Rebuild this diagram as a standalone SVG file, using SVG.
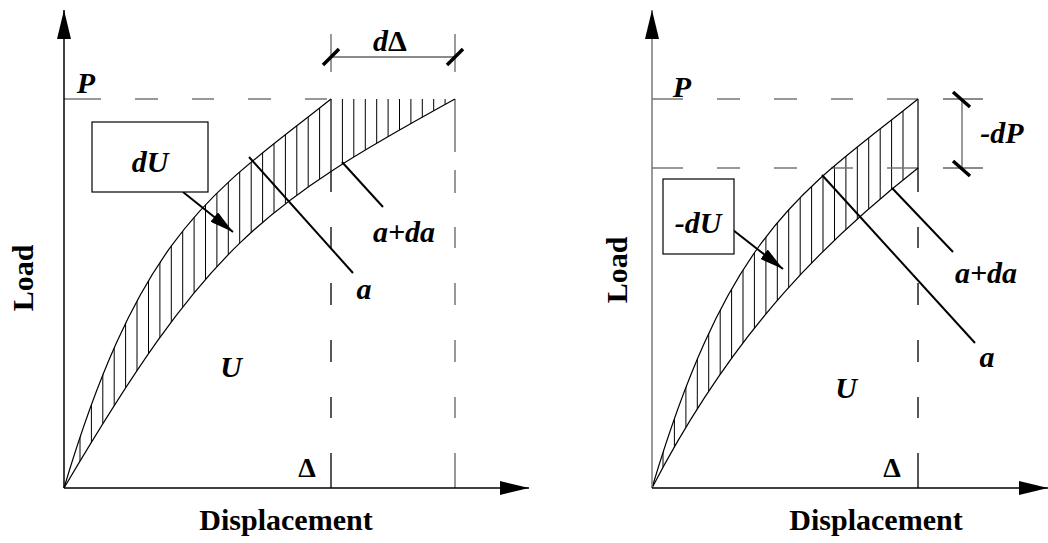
<svg xmlns="http://www.w3.org/2000/svg" width="1048" height="543" viewBox="0 0 1048 543">
<style>
 .ax{stroke:#000;stroke-width:1.5;fill:none}
 .axg{stroke:#777;stroke-width:1.5;fill:none}
 .crv{stroke:#000;stroke-width:1.2;fill:none}
 .hatch{stroke:#000;stroke-width:1;fill:none}
 .dash{stroke:#777;stroke-width:1.5;fill:none}
 .dashk{stroke:#222;stroke-width:1.5;fill:none}
 .bnd{stroke:#000;stroke-width:1.2;fill:none}
 .ldr{stroke:#000;stroke-width:2;fill:none}
 .tick{stroke:#000;stroke-width:3.5;fill:none}
 .dim{stroke:#666;stroke-width:1.3;fill:none}
 .box{fill:#fff;stroke:#000;stroke-width:1.2}
 text{font-family:"Liberation Serif","Times New Roman",serif;font-weight:bold;fill:#000;text-anchor:middle}
 .it{font-style:italic;font-size:30px}
 .up{font-size:30px}
</style>
<defs>
 <marker id="axArrow" markerUnits="userSpaceOnUse" markerWidth="30" markerHeight="14" refX="29" refY="7" orient="auto"><path d="M0,0 L29,7 L0,14 z" fill="#000"/></marker>
 <marker id="ptr" markerUnits="userSpaceOnUse" markerWidth="24" markerHeight="12" refX="24" refY="6" orient="auto"><path d="M0,0 L24,6 L0,12 z" fill="#000"/></marker>
 <clipPath id="clipL"><path d="M64,488 C142,226 217,190 331,99 L455,99 C260,206 207,246 64,488 Z"/></clipPath>
 <clipPath id="clipR"><path d="M652,488 C730,226 805,190 918,99 L918,168 C833,235 737,324 652,488 Z"/></clipPath>
</defs>

<g id="left-chart">
 <g id="left-hatch" clip-path="url(#clipL)">
  <path class="hatch" d="M80,90V490M91.4,90V490M102.8,90V490M114.2,90V490M125.6,90V490M137,90V490M148.5,90V490M159.9,90V490M171.3,90V490M182.7,90V490M194.1,90V490M205.5,90V490M216.9,90V490M228.3,90V490M239.7,90V490M251.2,90V490M262.6,90V490M274,90V490M285.4,90V490M296.8,90V490M308.2,90V490M319.6,90V490M342.4,90V490M353.8,90V490M365.3,90V490M376.7,90V490M388.1,90V490M399.5,90V490M410.9,90V490M422.3,90V490M433.7,90V490M445.1,90V490"/>
 </g>
 <path class="dash" d="M64,99H101M135,99H158M192,99H214M248,99H271M305,99H327"/>
 <path class="dashk" d="M331,170V192M331,227V248M331,283V305M331,340V362M331,397V418M331,453V488"/>
 <path class="dash" d="M455,99V152M455,170V193M455,227V248M455,283V305M455,340V362M455,397V418M455,453V488"/>
 <path class="bnd" d="M331,99V170"/>
 <path id="left-curve-a" class="crv" d="M64,488 C142,226 217,190 331,99"/>
 <path id="left-curve-ada" class="crv" d="M64,488 C207,246 260,206 455,99"/>
 <path id="left-y-axis" class="ax" d="M64,488V10" marker-end="url(#axArrow)"/>
 <path id="left-x-axis" class="ax" d="M64,488H529" marker-end="url(#axArrow)"/>
 <g id="left-dim-dDelta">
  <path class="dim" d="M331,34V72M455,34V72M331,57H455"/>
  <path class="tick" d="M323,65L339,49M447,65L463,49"/>
 </g>
</g>

<g id="right-chart">
 <g id="right-hatch" clip-path="url(#clipR)">
  <path class="hatch" d="M663,90V490M674.4,90V490M685.9,90V490M697.3,90V490M708.7,90V490M720.2,90V490M731.6,90V490M743,90V490M754.4,90V490M765.9,90V490M777.3,90V490M788.7,90V490M800.2,90V490M811.6,90V490M823,90V490M834.5,90V490M845.9,90V490M857.3,90V490M868.7,90V490M880.2,90V490M891.6,90V490M903,90V490"/>
 </g>
 <path class="dash" d="M652,99H683M717,99H740M774,99H797M831,99H853M887,99H918M652,168H683M717,168H740M774,168H797M831,168H853M887,168H918"/>
 <path class="dashk" d="M918,168V192M918,227V248M918,283V305M918,340V362M918,397V418M918,453V488"/>
 <path class="bnd" d="M918,99V168"/>
 <path id="right-curve-a" class="crv" d="M652,488 C730,226 805,190 918,99"/>
 <path id="right-curve-ada" class="crv" d="M652,488 C737,324 833,235 918,168"/>
 <path id="right-y-axis" class="axg" d="M652,488V10" marker-end="url(#axArrow)"/>
 <path id="right-x-axis" class="ax" d="M652,488H1048" marker-end="url(#axArrow)"/>
 <g id="right-dim-dP">
  <path class="dim" d="M943,99H983M943,168H983M962,99V168"/>
  <path class="tick" d="M953,92L970,107M953,161L970,176"/>
 </g>
</g>

<g id="connectors">
 <path id="leader-left-a" class="ldr" d="M249,157L353,273"/>
 <path id="leader-left-ada" class="ldr" d="M342,162L383,207"/>
 <path id="arrow-left-dU" class="ldr" d="M183,192L233,232" marker-end="url(#ptr)"/>
 <path id="leader-right-a" class="ldr" d="M822,175L975,343"/>
 <path id="leader-right-ada" class="ldr" d="M892,188L953,252"/>
 <path id="arrow-right-dU" class="ldr" d="M733,230L783,269" marker-end="url(#ptr)"/>
</g>

<g id="node-left-dU"><rect class="box" x="92" y="122" width="116" height="70"/><text class="it" x="150" y="172">dU</text></g>
<g id="node-right-dU"><rect class="box" x="663" y="179" width="71" height="75"/><text class="it" x="698" y="233">-dU</text></g>

<g id="labels-left">
 <text id="lbl-left-P" class="it" x="86" y="93">P</text>
 <text id="lbl-left-dDelta" x="390" y="51" class="it">d<tspan font-style="normal">Δ</tspan></text>
 <text id="lbl-left-ada" class="it" x="404" y="242">a+da</text>
 <text id="lbl-left-a" class="it" x="364" y="299">a</text>
 <text id="lbl-left-U" class="it" x="231" y="377">U</text>
 <text id="lbl-left-Delta" class="up" x="307" y="477" style="font-size:28px">Δ</text>
 <text id="lbl-left-disp" class="up" x="286" y="530">Displacement</text>
 <text id="lbl-left-load" class="up" transform="translate(33,278) rotate(-90)">Load</text>
</g>
<g id="labels-right">
 <text id="lbl-right-P" class="it" x="682" y="97">P</text>
 <text id="lbl-right-dP" class="it" x="1002" y="143">-dP</text>
 <text id="lbl-right-ada" class="it" x="986" y="283">a+da</text>
 <text id="lbl-right-a" class="it" x="987" y="367">a</text>
 <text id="lbl-right-U" class="it" x="846" y="398">U</text>
 <text id="lbl-right-Delta" class="up" x="892" y="477" style="font-size:28px">Δ</text>
 <text id="lbl-right-disp" class="up" x="876" y="530">Displacement</text>
 <text id="lbl-right-load" class="up" transform="translate(627,270) rotate(-90)">Load</text>
</g>
</svg>
